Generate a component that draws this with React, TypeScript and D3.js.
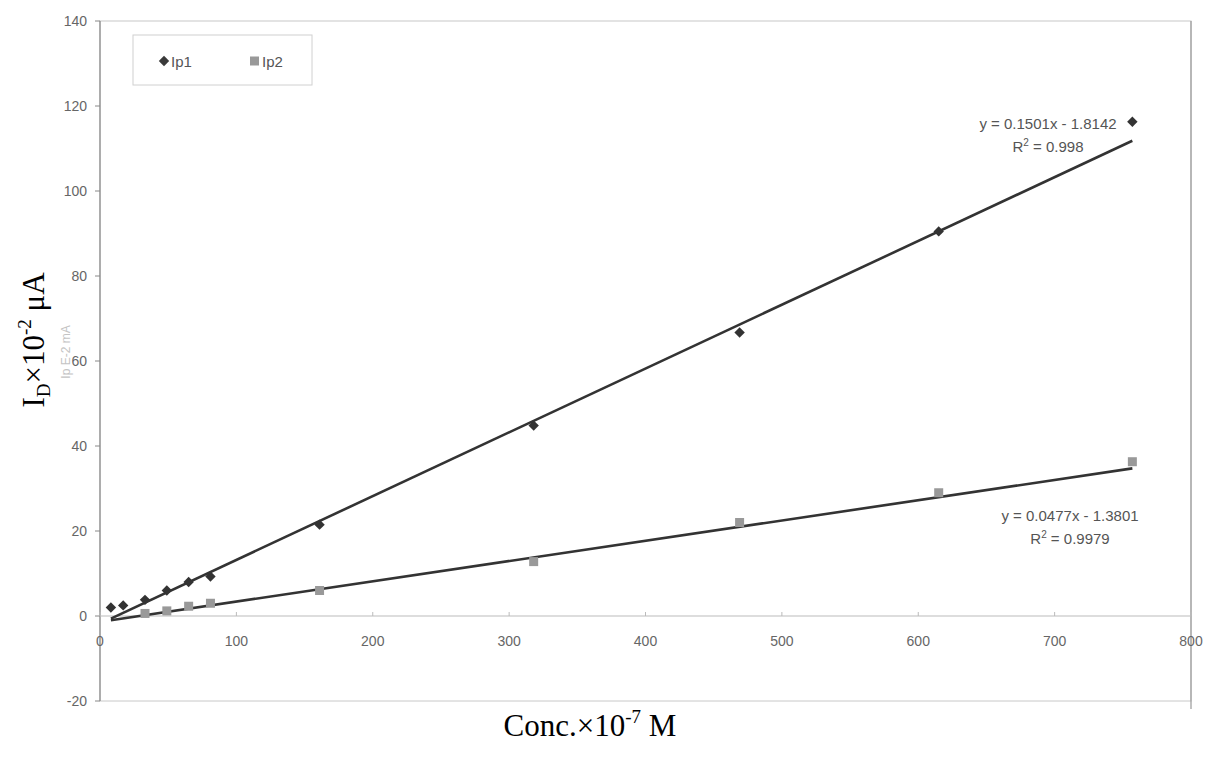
import React from "react";
import * as d3 from "d3";

const ip1X = [8, 17, 33, 49, 65, 81, 161, 318, 469, 615, 757];
const ip1Y = [2, 2.5, 3.8, 6, 8, 9.3, 21.5, 44.8, 66.7, 90.5, 116.3];
const ip2X = [33, 49, 65, 81, 161, 318, 469, 615, 757];
const ip2Y = [0.6, 1.2, 2.3, 3, 6, 12.8, 22, 29, 36.3];
const fitSlope = [0.1501, 0.0477];
const fitIntercept = [-1.8142, -1.3801];
const fitRange = [8, 757];
const eqText = ["y = 0.1501x - 1.8142", "y = 0.0477x - 1.3801"];
const r2Text = ["0.998", "0.9979"];
const xTicks = [0, 100, 200, 300, 400, 500, 600, 700, 800];
const yTicks = [-20, 0, 20, 40, 60, 80, 100, 120, 140];
const seriesNames = ["Ip1", "Ip2"];

const W = 1209;
const H = 758;
const L = 100, R = 1191, T = 21, B = 701;
const DIAMOND = "M0,-5.2L5.2,0L0,5.2L-5.2,0Z";

export default function App() {
  const x = d3.scaleLinear().domain([0, 800]).range([L, R]);
  const y = d3.scaleLinear().domain([-20, 140]).range([B, T]);
  const sans = "Arial, 'Liberation Sans', sans-serif";
  const serif = "'Times New Roman', 'Liberation Serif', serif";
  const fitLines = fitSlope.map((s, i) =>
    d3
      .line<number>()
      .x((d) => x(d))
      .y((d) => y(s * d + fitIntercept[i]))(fitRange)
  );
  const eqPos = [
    { cx: 1048, cy: 129, r: 152 },
    { cx: 1070, cy: 521, r: 544 },
  ];
  return (
    <svg width={W} height={H} style={{ position: "absolute", left: 0, top: 0, background: "#fff" }}>
      {/* plot border */}
      <rect x={L} y={T} width={R - L} height={B - T} fill="none" stroke="#c8c8c8" strokeWidth={1} />
      <line x1={R} x2={R} y1={T} y2={B + 8} stroke="#999" strokeWidth={1.2} />
      {/* y axis */}
      <line x1={L} x2={L} y1={T} y2={B} stroke="#888" strokeWidth={1.2} />
      {yTicks.map((t) => (
        <g key={"y" + t}>
          <line x1={L - 5} x2={L} y1={y(t)} y2={y(t)} stroke="#888" />
          <text x={L - 13} y={y(t) + 5} textAnchor="end" fontFamily={sans} fontSize={14} fill="#666">
            {t}
          </text>
        </g>
      ))}
      {/* x axis at y=0 */}
      <line x1={L} x2={R} y1={y(0)} y2={y(0)} stroke="#bbb" strokeWidth={1} />
      {xTicks.map((t) => (
        <g key={"x" + t}>
          <line x1={x(t)} x2={x(t)} y1={y(0)} y2={y(0) - 4} stroke="#bbb" />
          <text x={x(t)} y={y(0) + 30} textAnchor="middle" fontFamily={sans} fontSize={14} fill="#666">
            {t}
          </text>
        </g>
      ))}
      {/* faint original axis title */}
      <text
        transform={`translate(${70},${352}) rotate(-90)`}
        textAnchor="middle"
        fontFamily={sans}
        fontSize={12}
        fill="#c4c4c4"
      >
        Ip E-2 mA
      </text>
      {/* legend */}
      <rect x={133} y={35} width={179} height={50} fill="#fff" stroke="#d0d0d0" strokeWidth={1} />
      <path d={DIAMOND} transform="translate(164,61)" fill="#3a3a3a" />
      <text x={171} y={66.5} fontFamily={sans} fontSize={15} fill="#555">
        {seriesNames[0]}
      </text>
      <rect x={250} y={56.5} width={9} height={9} fill="#999" />
      <text x={262} y={66.5} fontFamily={sans} fontSize={15} fill="#555">
        {seriesNames[1]}
      </text>
      {/* fit lines */}
      {fitLines.map((d, i) => (
        <path key={"f" + i} d={d!} fill="none" stroke="#333" strokeWidth={2.6} />
      ))}
      {/* points */}
      {ip2X.map((v, i) => (
        <rect key={"p2" + i} x={x(v) - 4.5} y={y(ip2Y[i]) - 4.5} width={9} height={9} fill="#999" />
      ))}
      {ip1X.map((v, i) => (
        <path key={"p1" + i} d={DIAMOND} transform={`translate(${x(v)},${y(ip1Y[i])})`} fill="#333" />
      ))}
      {/* equations */}
      {eqPos.map((p, i) => (
        <g key={"e" + i} fontFamily={sans} fontSize={15} fill="#555" textAnchor="middle">
          <text x={p.cx} y={p.cy}>{eqText[i]}</text>
          <text x={p.cx} y={p.r}>
            R<tspan dy={-6} fontSize={10}>2</tspan>
            <tspan dy={6}>{" = " + r2Text[i]}</tspan>
          </text>
        </g>
      ))}
      {/* axis titles */}
      <text x={590} y={736} textAnchor="middle" fontFamily={serif} fontSize={31} fill="#000">
        Conc.×10<tspan dy={-13} fontSize={19}>-7</tspan>
        <tspan dy={13}> M</tspan>
      </text>
      <text
        transform={`translate(${44},${340}) rotate(-90)`}
        textAnchor="middle"
        fontFamily={serif}
        fontSize={31}
        fill="#000"
      >
        I<tspan dy={6} fontSize={19}>D</tspan>
        <tspan dy={-6}>×10</tspan>
        <tspan dy={-13} fontSize={19}>-2</tspan>
        <tspan dy={13}> μA</tspan>
      </text>
    </svg>
  );
}
